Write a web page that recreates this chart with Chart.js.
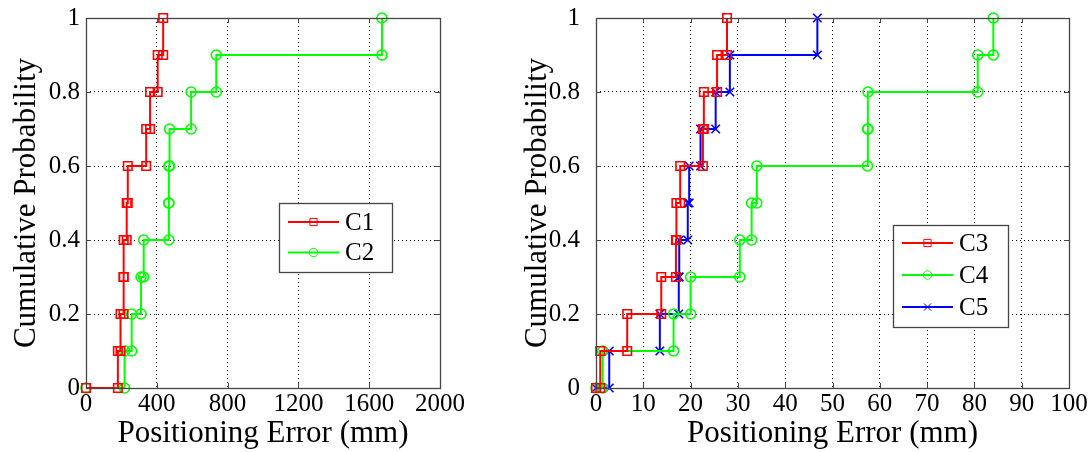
<!DOCTYPE html>
<html>
<head>
<meta charset="utf-8">
<script src="https://cdn.jsdelivr.net/npm/chart.js@4"></script>
<style>
  body { margin: 0; background: #fff; font-family: 'Liberation Serif', serif; }
  #wrap { position: relative; width: 1092px; height: 452px; }
  canvas { position: absolute; top: 0; }
</style>
</head>
<body>
<div id="wrap">
  <canvas id="left" width="500" height="452" style="left:0px"></canvas>
  <canvas id="right" width="592" height="452" style="left:500px"></canvas>
</div>
<script>
// probability levels of the empirical cdf (same for every curve)
const cdfLevels = [0, 0.1, 0.2, 0.3, 0.4, 0.5, 0.6, 0.7, 0.8, 0.9, 1.0];

// sorted positioning errors (mm)
const errC1 = [0, 180, 195, 212, 213, 230, 236, 340, 362, 405, 436];
const errC2 = [0, 218, 258, 311, 326, 468, 468, 472, 594, 736, 1672];
const errC3 = [0, 0.9, 6.6, 13.8, 16.9, 17.0, 17.8, 22.6, 22.8, 25.6, 27.7];
const errC4 = [0, 1.4, 16.4, 20.0, 30.4, 32.9, 34.0, 57.4, 57.5, 80.7, 84.0];
const errC5 = [0, 2.8, 13.5, 17.5, 17.6, 19.4, 19.7, 22.1, 25.3, 28.3, 46.8];

const xTicksLeft = [0, 400, 800, 1200, 1600, 2000];
const xTicksRight = [0, 10, 20, 30, 40, 50, 60, 70, 80, 90, 100];
const yTicks = [0, 0.2, 0.4, 0.6, 0.8, 1];

const FONT = "'Liberation Serif', 'DejaVu Serif', serif";
const BOX = '#454545';

// matlab-style stairs: every corner of the staircase gets a marker
function stairs(xs, ys) {
    const pts = [];
    for (let i = 0; i < xs.length; i++) {
        if (i > 0) pts.push({ x: xs[i], y: ys[i - 1] });
        pts.push({ x: xs[i], y: ys[i] });
    }
    return pts;
}

function series(label, xs, color, style, radius) {
    return {
        label: label,
        data: stairs(xs, cdfLevels),
        borderColor: color,
        backgroundColor: 'transparent',
        borderWidth: 2,
        pointStyle: style,
        pointRadius: radius,
        pointBorderColor: color,
        pointBackgroundColor: 'transparent',
        pointBorderWidth: 1.6,
        clip: false,
        tension: 0
    };
}

function marker(ctx, style, x, y, r) {
    ctx.beginPath();
    if (style === 'rect') {
        const s = r * Math.SQRT1_2;
        ctx.rect(x - s, y - s, 2 * s, 2 * s);
    } else if (style === 'circle') {
        ctx.arc(x, y, r, 0, Math.PI * 2);
    } else {
        const s = r * Math.SQRT1_2;
        ctx.moveTo(x - s, y - s); ctx.lineTo(x + s, y + s);
        ctx.moveTo(x - s, y + s); ctx.lineTo(x + s, y - s);
    }
    ctx.stroke();
}

// axes box, inward ticks and the legend box inside the axes
const framePlugin = {
    id: 'frame',
    afterDraw(chart, args, opts) {
        const ctx = chart.ctx;
        const a = chart.chartArea;
        ctx.save();
        ctx.strokeStyle = BOX;
        ctx.lineWidth = 1;
        ctx.setLineDash([]);
        ctx.beginPath();
        chart.scales.x.ticks.forEach(t => {
            const px = Math.round(chart.scales.x.getPixelForValue(t.value)) + 0.5;
            ctx.moveTo(px, a.bottom); ctx.lineTo(px, a.bottom - 5);
            ctx.moveTo(px, a.top); ctx.lineTo(px, a.top + 5);
        });
        chart.scales.y.ticks.forEach(t => {
            const py = Math.round(chart.scales.y.getPixelForValue(t.value)) + 0.5;
            ctx.moveTo(a.left, py); ctx.lineTo(a.left + 5, py);
            ctx.moveTo(a.right, py); ctx.lineTo(a.right - 5, py);
        });
        ctx.stroke();
        ctx.lineWidth = 1.3;
        ctx.strokeRect(Math.round(a.left) + 0.5, Math.round(a.top) + 0.5,
            Math.round(a.right - a.left), Math.round(a.bottom - a.top));

        const lg = opts.legend;
        ctx.fillStyle = '#fff';
        ctx.fillRect(lg.x, lg.y, lg.w, lg.h);
        ctx.strokeStyle = BOX;
        ctx.strokeRect(lg.x + 0.5, lg.y + 0.5, lg.w, lg.h);
        ctx.font = '25px ' + FONT;
        ctx.textBaseline = 'middle';
        chart.data.datasets.forEach((ds, i) => {
            const yy = lg.y + lg.first + i * lg.gap;
            ctx.strokeStyle = ds.borderColor;
            ctx.lineWidth = 2;
            ctx.beginPath();
            ctx.moveTo(lg.x + lg.line0, yy); ctx.lineTo(lg.x + lg.line1, yy);
            ctx.stroke();
            ctx.lineWidth = 1;
            marker(ctx, ds.pointStyle, lg.x + (lg.line0 + lg.line1) / 2, yy, ds.pointRadius * 0.85);
            ctx.fillStyle = '#000';
            ctx.fillText(ds.label, lg.x + lg.text, yy + 1);
        });
        ctx.restore();
    }
};

function makeChart(id, datasets, xMax, xTicks, cfg) {
    return new Chart(document.getElementById(id), {
        type: 'line',
        data: { datasets: datasets },
        plugins: [framePlugin],
        options: {
            responsive: false,
            animation: false,
            events: [],
            layout: { padding: { left: cfg.padLeft, right: cfg.padRight, top: 18, bottom: 0 } },
            plugins: {
                legend: { display: false },
                tooltip: { enabled: false },
                frame: { legend: cfg.legend }
            },
            scales: {
                x: {
                    type: 'linear',
                    min: 0,
                    max: xMax,
                    afterBuildTicks: s => { s.ticks = xTicks.map(v => ({ value: v })); },
                    afterFit: s => { s.height = 64; },
                    grid: { color: '#000', lineWidth: 1, drawTicks: false },
                    border: { display: false, dash: [1, 3] },
                    ticks: {
                        color: '#000', padding: 1, maxRotation: 0, autoSkip: false,
                        font: { family: FONT, size: 25 },
                        callback: v => String(v)
                    },
                    title: {
                        display: true, text: 'Positioning Error (mm)', color: '#000',
                        font: { family: FONT, size: 31 }, padding: { top: 0, bottom: 0 }
                    }
                },
                y: {
                    type: 'linear',
                    min: 0,
                    max: 1,
                    afterBuildTicks: s => { s.ticks = yTicks.map(v => ({ value: v })); },
                    afterFit: s => {
                        s.width = cfg.yWidth;
                        // keep the label overhang from pushing the plot area down
                        s.paddingTop = 0;
                        s.paddingBottom = 0;
                    },
                    grid: { color: '#000', lineWidth: 1, drawTicks: false },
                    border: { display: false, dash: [1, 3] },
                    ticks: {
                        color: '#000', padding: cfg.yTickPad,
                        font: { family: FONT, size: 25 },
                        callback: v => String(v)
                    },
                    title: {
                        display: true, text: 'Cumulative Probability', color: '#000',
                        font: { family: FONT, size: 31 }, padding: { top: 8, bottom: 0 }
                    }
                }
            }
        }
    });
}

function build() {
    makeChart('left', [
        series('C1', errC1, '#ff0000', 'rect', 6),
        series('C2', errC2, '#00ff00', 'circle', 5)
    ], 2000, xTicksLeft, {
        padLeft: 0, padRight: 60, yWidth: 86, yTickPad: 6,
        legend: { x: 279, y: 203, w: 113, h: 69, first: 19, gap: 30.5, line0: 9, line1: 60, text: 66 }
    });

    makeChart('right', [
        series('C3', errC3, '#ff0000', 'rect', 6),
        series('C4', errC4, '#00ff00', 'circle', 5),
        series('C5', errC5, '#0000ff', 'crossRot', 6)
    ], 100, xTicksRight, {
        padLeft: 11, padRight: 23, yWidth: 85, yTickPad: 16,
        legend: { x: 393, y: 225, w: 115, h: 102, first: 18, gap: 32, line0: 9, line1: 60, text: 66 }
    });
}

if (document.fonts && document.fonts.load) {
    Promise.all([
        document.fonts.load("25px 'Liberation Serif'"),
        document.fonts.load("31px 'Liberation Serif'")
    ]).then(build, build);
} else {
    build();
}
</script>
</body>
</html>
